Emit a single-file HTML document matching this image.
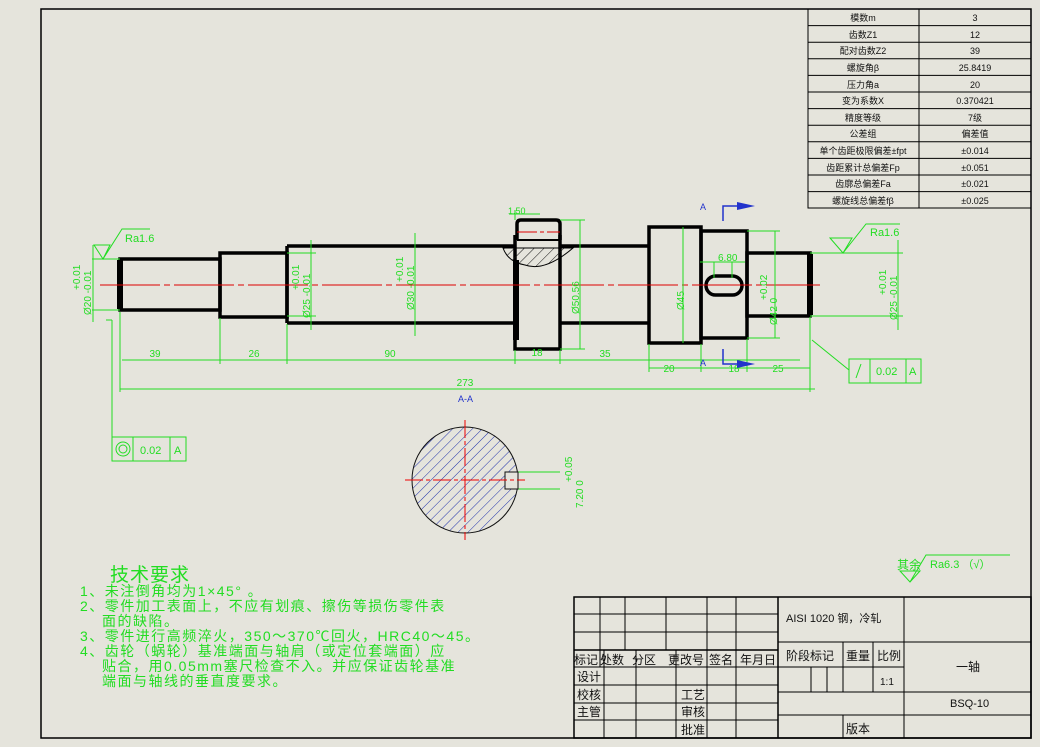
<!DOCTYPE html>
<html><head><meta charset="utf-8"><style>
html,body{margin:0;padding:0;background:#e5e4dc;}
svg{display:block;}
text{font-family:"Liberation Sans","Noto Sans CJK SC",sans-serif;}
.g{fill:#22dd22;font-size:10px;}
.k{fill:#111;font-size:9px;}
.t{fill:#111;font-size:12px;}
</style></head><body>
<svg width="1040" height="747" viewBox="0 0 1040 747" xmlns="http://www.w3.org/2000/svg">
<defs>
<pattern id="h" width="7" height="7" patternUnits="userSpaceOnUse" patternTransform="rotate(45)"><line x1="0" y1="0" x2="0" y2="7" stroke="#2233aa" stroke-width="1"/></pattern>
<pattern id="h2" width="7" height="7" patternUnits="userSpaceOnUse" patternTransform="rotate(45)"><line x1="0" y1="0" x2="0" y2="7" stroke="#111" stroke-width="1"/></pattern>
</defs>
<rect x="41" y="9" width="990" height="729" fill="none" stroke="#000" stroke-width="1.5"/>

<!-- parameter table -->
<g stroke="#000" stroke-width="1" fill="none">
<rect x="808" y="9" width="223" height="199"/>
<line x1="919" y1="9" x2="919" y2="208"/>
<line x1="808" y1="25.6" x2="1031" y2="25.6"/><line x1="808" y1="42.2" x2="1031" y2="42.2"/><line x1="808" y1="58.8" x2="1031" y2="58.8"/><line x1="808" y1="75.4" x2="1031" y2="75.4"/><line x1="808" y1="92" x2="1031" y2="92"/><line x1="808" y1="108.6" x2="1031" y2="108.6"/><line x1="808" y1="125.2" x2="1031" y2="125.2"/><line x1="808" y1="141.8" x2="1031" y2="141.8"/><line x1="808" y1="158.4" x2="1031" y2="158.4"/><line x1="808" y1="175" x2="1031" y2="175"/><line x1="808" y1="191.6" x2="1031" y2="191.6"/>
</g>
<g class="k" text-anchor="middle">
<text x="863" y="21">模数m</text><text x="975" y="21">3</text>
<text x="863" y="38">齿数Z1</text><text x="975" y="38">12</text>
<text x="863" y="54">配对齿数Z2</text><text x="975" y="54">39</text>
<text x="863" y="71">螺旋角β</text><text x="975" y="71">25.8419</text>
<text x="863" y="88">压力角a</text><text x="975" y="88">20</text>
<text x="863" y="104">变为系数X</text><text x="975" y="104">0.370421</text>
<text x="863" y="121">精度等级</text><text x="975" y="121">7级</text>
<text x="863" y="137">公差组</text><text x="975" y="137">偏差值</text>
<text x="863" y="154">单个齿距极限偏差±fpt</text><text x="975" y="154">±0.014</text>
<text x="863" y="171">齿距累计总偏差Fp</text><text x="975" y="171">±0.051</text>
<text x="863" y="187">齿廓总偏差Fa</text><text x="975" y="187">±0.021</text>
<text x="863" y="204">螺旋线总偏差fβ</text><text x="975" y="204">±0.025</text>
</g>

<!-- shaft -->
<g stroke="#000" stroke-width="3.5" fill="none">
<rect x="120" y="259" width="100" height="51"/>
<rect x="220" y="253" width="67" height="64"/>
<line x1="287" y1="246" x2="515" y2="246"/><line x1="287" y1="323" x2="515" y2="323"/><line x1="287" y1="246" x2="287" y2="323"/>
<path d="M515 235 L515 349 L560 349 L560 235"/>
<path d="M517 240 L517 224 Q517 220 521 220 L556 220 Q560 220 560 224 L560 240"/>
<line x1="560" y1="246" x2="649" y2="246"/><line x1="560" y1="323" x2="649" y2="323"/>
<rect x="649" y="227" width="52" height="116"/>
<rect x="701" y="231" width="46" height="107"/>
<rect x="747" y="253" width="63" height="63"/>
<rect x="706" y="276" width="36" height="19" rx="9.5"/>
</g>
<line x1="120" y1="260" x2="120" y2="309" stroke="#000" stroke-width="6"/>
<line x1="810" y1="254" x2="810" y2="315" stroke="#000" stroke-width="6"/>
<line x1="516" y1="260" x2="516" y2="340" stroke="#000" stroke-width="6"/>
<path d="M503 248 L573 248 Q545 272 525 265 Q508 262 503 248Z" fill="url(#h2)" stroke="#000" stroke-width="1"/>
<line x1="517" y1="240" x2="560" y2="240" stroke="#000" stroke-width="2"/>
<line x1="100" y1="285" x2="820" y2="285" stroke="#d00" stroke-width="1" stroke-dasharray="60 4 6 4"/>
<line x1="517" y1="232" x2="560" y2="232" stroke="#d00" stroke-width="1" stroke-dasharray="20 3 4 3"/>

<!-- dimensions -->
<g stroke="#22dd22" stroke-width="1" fill="none">
<line x1="122" y1="360" x2="800" y2="360"/>
<line x1="120" y1="389" x2="815" y2="389"/>
<line x1="649" y1="368" x2="810" y2="368"/>
<line x1="120" y1="312" x2="120" y2="392"/><line x1="220" y1="318" x2="220" y2="364"/><line x1="287" y1="324" x2="287" y2="364"/><line x1="515" y1="350" x2="515" y2="364"/><line x1="560" y1="350" x2="560" y2="364"/><line x1="649" y1="344" x2="649" y2="372"/><line x1="701" y1="344" x2="701" y2="372"/><line x1="747" y1="339" x2="747" y2="372"/><line x1="810" y1="317" x2="810" y2="392"/>
<line x1="92" y1="259" x2="120" y2="259"/><line x1="92" y1="310" x2="120" y2="310"/><line x1="93" y1="245" x2="93" y2="322"/>
<line x1="287" y1="253" x2="316" y2="253"/><line x1="287" y1="316" x2="316" y2="316"/><line x1="311" y1="240" x2="311" y2="330"/>
<line x1="415" y1="233" x2="415" y2="336"/>
<line x1="560" y1="220" x2="585" y2="220"/><line x1="560" y1="349" x2="585" y2="349"/><line x1="580" y1="220" x2="580" y2="349"/>
<line x1="683" y1="227" x2="683" y2="343"/>
<line x1="747" y1="231" x2="780" y2="231"/><line x1="747" y1="338" x2="780" y2="338"/><line x1="775" y1="231" x2="775" y2="338"/>
<line x1="810" y1="253" x2="903" y2="253"/><line x1="810" y1="316" x2="903" y2="316"/><line x1="898" y1="240" x2="898" y2="330"/>
<line x1="700" y1="262" x2="745" y2="262"/><line x1="714" y1="262" x2="714" y2="278"/><line x1="732" y1="262" x2="732" y2="278"/>
<line x1="509" y1="214" x2="540" y2="214"/><line x1="515" y1="210" x2="515" y2="220"/>
<line x1="112" y1="320" x2="112" y2="437"/><line x1="106" y1="320" x2="112" y2="320"/>
<line x1="812" y1="340" x2="849" y2="370"/>
<path d="M94 245 L110 245 L103 259 Z M103 259 L122 229 L150 229"/>
<path d="M830 238 L852 238 L843 253 Z M843 253 L866 224 L900 224"/>
<path d="M900 571 L920 571 L910 582 Z M910 582 L926 555 L1010 555"/>
<rect x="112" y="437" width="74" height="24"/><line x1="133" y1="437" x2="133" y2="461"/><line x1="170" y1="437" x2="170" y2="461"/>
<circle cx="123" cy="449" r="7"/><circle cx="123" cy="449" r="4"/>
<rect x="849" y="359" width="72" height="24"/><line x1="870" y1="359" x2="870" y2="383"/><line x1="906" y1="359" x2="906" y2="383"/>
<line x1="856" y1="378" x2="861" y2="364"/>
<line x1="518" y1="472" x2="560" y2="472"/><line x1="518" y1="489" x2="560" y2="489"/>
</g>
<g class="g">
<text x="155" y="357" text-anchor="middle">39</text><text x="254" y="357" text-anchor="middle">26</text><text x="390" y="357" text-anchor="middle">90</text><text x="537" y="356" text-anchor="middle">18</text><text x="605" y="357" text-anchor="middle">35</text>
<text x="669" y="372" text-anchor="middle">20</text><text x="734" y="372" text-anchor="middle">18</text><text x="778" y="372" text-anchor="middle">25</text>
<text x="465" y="386" text-anchor="middle">273</text>
<text x="718" y="261">6.80</text><text x="508" y="214" font-size="9">1.50</text>
<text x="125" y="242" font-size="11">Ra1.6</text><text x="870" y="236" font-size="11">Ra1.6</text>
<text x="930" y="568" font-size="11">Ra6.3  （√）</text><text x="897" y="569" font-size="12">其余</text>
<text x="140" y="454" font-size="11">0.02</text><text x="174" y="454" font-size="11">A</text>
<text x="876" y="375" font-size="11">0.02</text><text x="909" y="375" font-size="11">A</text>
<text transform="translate(91,315) rotate(-90)">Ø20  -0.01</text><text transform="translate(80,290) rotate(-90)">+0.01</text>
<text transform="translate(310,318) rotate(-90)">Ø25 -0.01</text><text transform="translate(299,290) rotate(-90)">+0.01</text>
<text transform="translate(414,310) rotate(-90)">Ø30 -0.01</text><text transform="translate(403,282) rotate(-90)">+0.01</text>
<text transform="translate(579,314) rotate(-90)">Ø50.56</text>
<text transform="translate(684,310) rotate(-90)">Ø45</text>
<text transform="translate(777,325) rotate(-90)">Ø42  0</text><text transform="translate(767,300) rotate(-90)">+0.02</text>
<text transform="translate(897,320) rotate(-90)">Ø25 -0.01</text><text transform="translate(886,295) rotate(-90)">+0.01</text>
<text transform="translate(572,482) rotate(-90)">+0.05</text><text transform="translate(583,508) rotate(-90)">7.20 0</text>
</g>
<g fill="#2233cc" font-size="9"><text x="700" y="210">A</text><text x="700" y="366">A</text><text x="458" y="402">A-A</text></g>
<g stroke="#2233cc" stroke-width="1.5" fill="none">
<path d="M723 221 L723 206 L745 206"/><path d="M723 349 L723 364 L745 364"/>
</g>
<path d="M737 202 L755 206 L737 210Z M737 360 L755 364 L737 368Z" fill="#2233cc"/>
<circle cx="465" cy="480" r="53" fill="url(#h)" stroke="#111" stroke-width="1"/>
<rect x="505" y="472" width="13" height="17" fill="#e5e4dc" stroke="#111" stroke-width="1"/>
<g stroke="#e00" stroke-width="1"><line x1="405" y1="480" x2="525" y2="480" stroke-dasharray="18 3 4 3"/><line x1="465" y1="420" x2="465" y2="540" stroke-dasharray="18 3 4 3"/></g>

<!-- tech requirements -->
<g fill="#22dd22">
<text x="110" y="581" font-size="19" letter-spacing="1">技术要求</text>
<g font-size="14" letter-spacing="1.5">
<text x="80" y="596">1、未注倒角均为1×45° 。</text>
<text x="80" y="611">2、零件加工表面上，不应有划痕、擦伤等损伤零件表</text>
<text x="102" y="626">面的缺陷。</text>
<text x="80" y="641">3、零件进行高频淬火，350～370℃回火，HRC40～45。</text>
<text x="80" y="656">4、齿轮（蜗轮）基准端面与轴肩（或定位套端面）应</text>
<text x="102" y="671">贴合，用0.05mm塞尺检查不入。并应保证齿轮基准</text>
<text x="102" y="686">端面与轴线的垂直度要求。</text>
</g></g>

<!-- title block -->
<g stroke="#000" stroke-width="1" fill="none">
<rect x="574" y="597" width="457" height="141" stroke-width="1.5"/>
<line x1="574" y1="614" x2="778" y2="614"/><line x1="574" y1="632" x2="778" y2="632"/><line x1="574" y1="650" x2="778" y2="650" stroke-width="1.5"/>
<line x1="574" y1="667" x2="778" y2="667"/><line x1="574" y1="685" x2="778" y2="685"/><line x1="574" y1="703" x2="778" y2="703"/><line x1="574" y1="720" x2="778" y2="720"/>
<line x1="600" y1="597" x2="600" y2="667"/><line x1="625" y1="597" x2="625" y2="650"/><line x1="666" y1="597" x2="666" y2="650"/><line x1="707" y1="597" x2="707" y2="738"/><line x1="736" y1="597" x2="736" y2="738"/>
<line x1="604" y1="650" x2="604" y2="738"/><line x1="636" y1="650" x2="636" y2="738"/><line x1="676" y1="650" x2="676" y2="738"/>
<line x1="778" y1="597" x2="778" y2="738" stroke-width="1.5"/><line x1="904" y1="597" x2="904" y2="738"/>
<line x1="778" y1="642" x2="1031" y2="642"/><line x1="778" y1="667" x2="904" y2="667"/><line x1="778" y1="692" x2="1031" y2="692"/><line x1="778" y1="715" x2="1031" y2="715"/>
<line x1="843" y1="642" x2="843" y2="692"/><line x1="873" y1="642" x2="873" y2="692"/><line x1="811" y1="667" x2="811" y2="692"/><line x1="827" y1="667" x2="827" y2="692"/><line x1="843" y1="715" x2="843" y2="738"/>
</g>
<g class="t">
<text x="574" y="664">标记</text><text x="600" y="664">处数</text><text x="632" y="664">分区</text><text x="668" y="664">更改号</text><text x="709" y="664">签名</text><text x="740" y="664">年月日</text>
<text x="577" y="681">设计</text><text x="577" y="699">校核</text><text x="577" y="716">主管</text>
<text x="681" y="699">工艺</text><text x="681" y="716">审核</text><text x="681" y="734">批准</text>
<text x="786" y="622" font-size="11">AISI 1020 钢，冷轧</text>
<text x="786" y="660">阶段标记</text><text x="846" y="660">重量</text><text x="877" y="660">比例</text>
<text x="880" y="685" font-size="10">1:1</text>
<text x="956" y="671">一轴</text>
<text x="950" y="707" font-size="11">BSQ-10</text>
<text x="846" y="733">版本</text>
</g>
</svg>
</body></html>
